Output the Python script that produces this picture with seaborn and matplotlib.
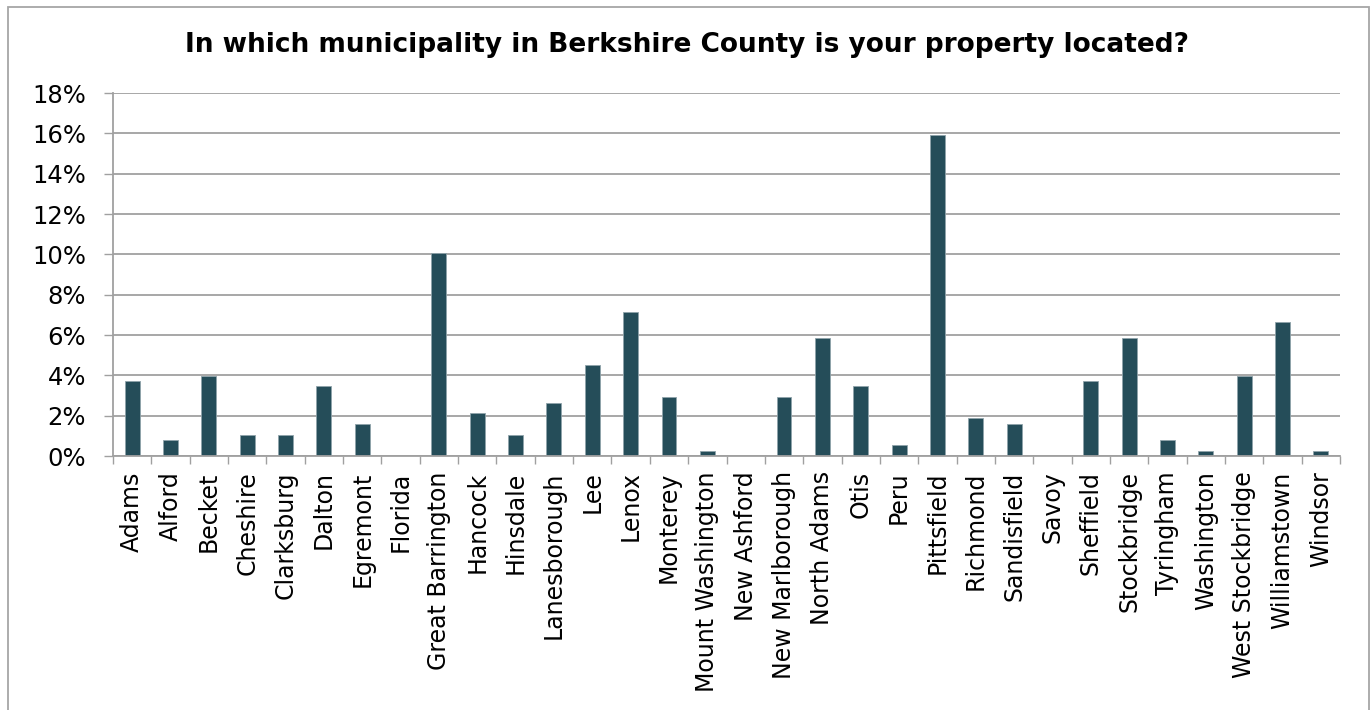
import matplotlib
matplotlib.use("Agg")
import matplotlib.pyplot as plt
from matplotlib.patches import Rectangle
from matplotlib.ticker import FixedLocator, FuncFormatter
import seaborn as sns

# Share of respondents by municipality (percent)
municipalities = [
    "Adams", "Alford", "Becket", "Cheshire", "Clarksburg", "Dalton", "Egremont",
    "Florida", "Great Barrington", "Hancock", "Hinsdale", "Lanesborough", "Lee",
    "Lenox", "Monterey", "Mount Washington", "New Ashford", "New Marlborough",
    "North Adams", "Otis", "Peru", "Pittsfield", "Richmond", "Sandisfield",
    "Savoy", "Sheffield", "Stockbridge", "Tyringham", "Washington",
    "West Stockbridge", "Williamstown", "Windsor",
]
shares = [
    3.71, 0.80, 3.98, 1.06, 1.06, 3.45, 1.59,
    0.00, 10.08, 2.12, 1.06, 2.65, 4.51,
    7.16, 2.92, 0.27, 0.00, 2.92,
    5.84, 3.45, 0.53, 15.92, 1.86, 1.59,
    0.00, 3.71, 5.84, 0.80, 0.27,
    3.98, 6.63, 0.27,
]
y_ticks = [0, 2, 4, 6, 8, 10, 12, 14, 16, 18]
title = "In which municipality in Berkshire County is your property located?"

sns.set_theme(style="white")
plt.rcParams["font.family"] = ["DejaVu Sans"]

W, H = 1372, 710
fig = plt.figure(figsize=(W / 100, H / 100), dpi=100)
ax = fig.add_axes([113 / W, 1 - 456 / H, (1340 - 113) / W, (456 - 93) / H])

bar_color = "#254D59"
grid_color = "#A0A0A0"

sns.barplot(x=municipalities, y=shares, color=bar_color, width=0.39,
            edgecolor="#8FA3AA", linewidth=0.6, saturation=1, ax=ax)

ax.set_ylim(0, 18)
ax.set_xlim(-0.5, len(municipalities) - 0.5)
ax.yaxis.set_major_locator(FixedLocator(y_ticks))
ax.yaxis.set_major_formatter(FuncFormatter(lambda v, p: f"{v:.0f}%"))
ax.set_axisbelow(True)
ax.grid(axis="y", color=grid_color, linewidth=1.3)
ax.grid(axis="x", visible=False)

for side in ("top", "right"):
    ax.spines[side].set_visible(False)
for side in ("left", "bottom"):
    ax.spines[side].set_color(grid_color)
    ax.spines[side].set_linewidth(1.3)

ax.tick_params(axis="y", which="major", left=True, length=6.5, width=1.0,
               color=grid_color, pad=13, labelsize=17.5, labelcolor="black")
ax.tick_params(axis="x", which="major", bottom=True, length=0, pad=11,
               labelsize=17, labelcolor="black", labelrotation=90)
# boundary ticks between categories
ax.set_xticks([i - 0.5 for i in range(len(municipalities) + 1)], minor=True)
ax.tick_params(axis="x", which="minor", bottom=True, length=5.5, width=1.0,
               color=grid_color)
ax.set_xlabel("")
ax.set_ylabel("")

fig.text(0.5 * (182 + 1192) / W, 1 - 45 / H, title, ha="center", va="center",
         fontsize=19, fontweight="bold", color="black")

# outer chart frame
fig.patches.append(Rectangle((8 / W, -0.02), (1369 - 8) / W, 1.02 - 7 / H,
                             transform=fig.transFigure, fill=False,
                             edgecolor="#A6A6A6", linewidth=1.3))

fig.savefig("out.png", dpi=100, facecolor="white")
